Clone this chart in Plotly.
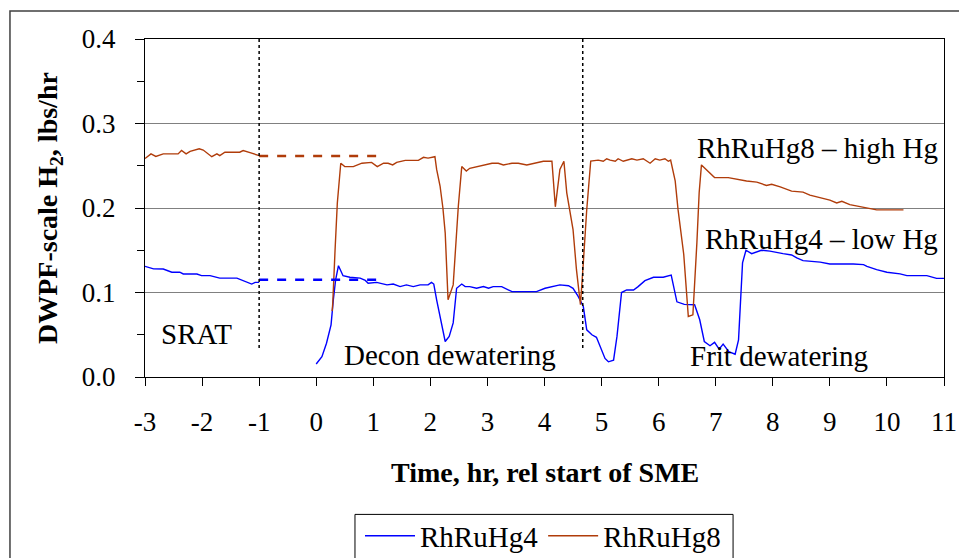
import plotly.graph_objects as go

# ---------------- data ----------------
srat_t_hg4 = [-3.0, -2.85, -2.68, -2.53, -2.39, -2.33, -2.09, -2.01, -1.86, -1.69, -1.39, -1.28, -1.13, -1.07, -1.0]
srat_hg4 = [0.131, 0.128, 0.1278, 0.124, 0.124, 0.1219, 0.1219, 0.120, 0.120, 0.117, 0.117, 0.1143, 0.110, 0.112, 0.112]

srat_t_hg8 = [-3.0, -2.895, -2.81, -2.68, -2.42, -2.36, -2.28, -2.21, -2.05, -1.98, -1.83, -1.74, -1.69, -1.60,
              -1.34, -1.28, -1.16, -1.07, -1.0]
srat_hg8 = [0.2585, 0.264, 0.261, 0.264, 0.264, 0.268, 0.264, 0.267, 0.270, 0.2686, 0.2607, 0.264, 0.262, 0.266,
            0.266, 0.268, 0.2655, 0.264, 0.262]

sme_t_hg4 = [0.00, 0.10, 0.18, 0.26, 0.30, 0.34, 0.39, 0.47, 0.59, 0.77, 0.86, 0.91, 1.06, 1.24, 1.35, 1.47, 1.58,
             1.70, 1.82, 1.96, 2.02, 2.06, 2.11, 2.17, 2.26, 2.33, 2.40, 2.46, 2.55, 2.61, 2.69, 2.81, 2.93, 3.02,
             3.10, 3.25, 3.43, 3.63, 3.86, 4.01, 4.15, 4.27, 4.42, 4.50, 4.59, 4.68, 4.74, 4.83, 4.91, 4.97, 5.06,
             5.12, 5.21, 5.27, 5.35, 5.44, 5.56, 5.64, 5.76, 5.91, 6.08, 6.22, 6.25, 6.32, 6.45, 6.63, 6.72, 6.80,
             6.90, 6.98, 7.06, 7.13, 7.23, 7.34, 7.40, 7.43, 7.47, 7.53, 7.63, 7.80, 7.95, 8.18, 8.33, 8.42, 8.53,
             8.83, 9.00, 9.41, 9.59, 9.65, 9.82, 10.00, 10.23, 10.35, 10.70, 10.87, 11.0]
sme_hg4 = [0.0154, 0.024, 0.040, 0.0617, 0.0914, 0.115, 0.1317, 0.1199, 0.118, 0.117, 0.1143, 0.111, 0.112, 0.109,
           0.110, 0.107, 0.109, 0.107, 0.109, 0.109, 0.112, 0.110, 0.0914, 0.072, 0.042, 0.048, 0.064, 0.105, 0.110,
           0.107, 0.107, 0.105, 0.107, 0.105, 0.107, 0.107, 0.101, 0.101, 0.101, 0.105, 0.107, 0.109, 0.108, 0.105,
           0.0953, 0.0834, 0.0558, 0.050, 0.047, 0.037, 0.022, 0.018, 0.020, 0.048, 0.100, 0.103, 0.103, 0.107,
           0.114, 0.118, 0.118, 0.1205, 0.111, 0.089, 0.086, 0.0855, 0.0677, 0.042, 0.037, 0.041, 0.033, 0.039,
           0.030, 0.027, 0.044, 0.0834, 0.135, 0.150, 0.146, 0.150, 0.149, 0.146, 0.1444, 0.141, 0.1377, 0.136,
           0.1337, 0.1337, 0.133, 0.131, 0.127, 0.124, 0.122, 0.120, 0.120, 0.1167, 0.1167]

sme_t_hg8 = [0.28, 0.29, 0.33, 0.37, 0.43, 0.50, 0.65, 0.80, 0.97, 1.07, 1.18, 1.26, 1.34, 1.41, 1.56, 1.79, 1.88,
             1.96, 2.08, 2.11, 2.17, 2.22, 2.26, 2.31, 2.40, 2.49, 2.55, 2.63, 2.69, 2.81, 2.93, 3.08, 3.19, 3.28,
             3.43, 3.54, 3.69, 3.83, 3.98, 4.13, 4.19, 4.27, 4.34, 4.39, 4.50, 4.56, 4.63, 4.68, 4.74, 4.81, 4.94,
             5.03, 5.09, 5.15, 5.24, 5.29, 5.38, 5.53, 5.62, 5.73, 5.85, 5.94, 6.02, 6.11, 6.17, 6.21, 6.29, 6.34,
             6.40, 6.44, 6.52, 6.60, 6.67, 6.71, 6.75, 6.87, 6.98, 7.22, 7.37, 7.54, 7.72, 7.89, 7.98, 8.13, 8.33,
             8.53, 8.65, 8.83, 9.00, 9.12, 9.21, 9.35, 9.53, 9.67, 9.82, 10.11, 10.29]
sme_hg8 = [0.078, 0.0874, 0.15, 0.206, 0.253, 0.249, 0.249, 0.253, 0.254, 0.249, 0.253, 0.253, 0.251, 0.254, 0.2564,
           0.2564, 0.260, 0.259, 0.2607, 0.2457, 0.226, 0.20, 0.1706, 0.0914, 0.109, 0.202, 0.249, 0.2437, 0.247,
           0.249, 0.251, 0.253, 0.253, 0.251, 0.253, 0.253, 0.251, 0.253, 0.2553, 0.2553, 0.2014, 0.2457, 0.2553,
           0.218, 0.1745, 0.127, 0.0855, 0.135, 0.198, 0.2556, 0.2567, 0.2553, 0.2583, 0.2567, 0.2553, 0.2583,
           0.2553, 0.2583, 0.2567, 0.2583, 0.253, 0.2583, 0.2567, 0.2583, 0.2553, 0.2567, 0.232, 0.198, 0.1666,
           0.145, 0.0716, 0.0736, 0.1587, 0.218, 0.251, 0.2437, 0.236, 0.236, 0.234, 0.232, 0.2306, 0.2267, 0.228,
           0.225, 0.220, 0.2188, 0.2152, 0.212, 0.2093, 0.206, 0.208, 0.204, 0.2013, 0.1998, 0.1978, 0.1978, 0.1978]

dash_t = [-1.0, 1.05]
dash_hg4 = [0.115, 0.115]
dash_hg8 = [0.2615, 0.2615]

phase_lines_t = [-1.0, 4.67]
phase_line_bottom = 0.0344

phase_labels = ["SRAT", "Decon dewatering", "Frit dewatering"]
phase_label_x = [-2.76, 0.452, 6.515]
phase_label_y = [0.051, 0.0261, 0.0243]

series_labels = ["RhRuHg8 – high Hg", "RhRuHg4 – low Hg"]
series_label_y = [0.2706, 0.1638]
series_label_x_right = 10.93

x_tick_vals = [-3, -2, -1, 0, 1, 2, 3, 4, 5, 6, 7, 8, 9, 10, 11]
x_tick_text = ["-3", "-2", "-1", "0", "1", "2", "3", "4", "5", "6", "7", "8", "9", "10", "11"]

series_names = ["RhRuHg4", "RhRuHg8"]
colors = ["#0000FF", "#B03C0A"]

FONT = "Liberation Serif, Times New Roman, serif"

fig = go.Figure()

x4 = srat_t_hg4 + [None] + sme_t_hg4
y4 = srat_hg4 + [None] + sme_hg4
x8 = srat_t_hg8 + [None] + sme_t_hg8
y8 = srat_hg8 + [None] + sme_hg8

fig.add_trace(go.Scatter(x=x4, y=y4, mode="lines", name=series_names[0],
                         line=dict(color=colors[0], width=1.4), connectgaps=False))
fig.add_trace(go.Scatter(x=x8, y=y8, mode="lines", name=series_names[1],
                         line=dict(color=colors[1], width=1.4), connectgaps=False))
fig.add_trace(go.Scatter(x=dash_t, y=dash_hg4, mode="lines", showlegend=False,
                         line=dict(color=colors[0], width=2.5, dash="dash")))
fig.add_trace(go.Scatter(x=dash_t, y=dash_hg8, mode="lines", showlegend=False,
                         line=dict(color=colors[1], width=2.5, dash="dash")))

shapes = []
for xv in phase_lines_t:
    shapes.append(dict(type="line", xref="x", yref="y", x0=xv, x1=xv, y0=phase_line_bottom, y1=0.4,
                       line=dict(color="black", width=1.5, dash="dot")))
# outer chart border
shapes.append(dict(type="rect", xref="paper", yref="paper", x0=-0.169, x1=1.03, y0=-0.7, y1=1.083,
                   line=dict(color="#404040", width=1.5), layer="below"))
# legend box
shapes.append(dict(type="rect", xref="paper", yref="paper", x0=0.2628, x1=0.736, y0=-0.7, y1=-0.4065,
                   line=dict(color="black", width=1)))

annotations = []
for txt, xv, yv in zip(phase_labels, phase_label_x, phase_label_y):
    annotations.append(dict(text=txt, x=xv, y=yv, xref="x", yref="y", xanchor="left", yanchor="middle",
                            showarrow=False, font=dict(family=FONT, size=29, color="black")))
for txt, yv in zip(series_labels, series_label_y):
    annotations.append(dict(text=txt, x=series_label_x_right, y=yv, xref="x", yref="y", xanchor="right",
                            yanchor="middle", showarrow=False, font=dict(family=FONT, size=29, color="black")))
annotations.append(dict(text="<b>DWPF-scale H<sub>2</sub>, lbs/hr</b>", x=(49 - 145) / 799, y=0.5,
                        xref="paper", yref="paper", textangle=-90, xanchor="center", yanchor="middle",
                        showarrow=False, font=dict(family=FONT, size=28, color="black")))
annotations.append(dict(text="<b>Time, hr, rel start of SME</b>", x=0.5, y=(377 - 472) / 337,
                        xref="paper", yref="paper", xanchor="center", yanchor="middle",
                        showarrow=False, font=dict(family=FONT, size=28, color="black")))

fig.update_layout(
    width=959, height=558,
    margin=dict(l=145, r=15, t=39, b=181, autoexpand=False),
    paper_bgcolor="white", plot_bgcolor="white",
    font=dict(family=FONT, size=27, color="black"),
    shapes=shapes, annotations=annotations,
    showlegend=True,
    legend=dict(orientation="h", x=(360 - 145) / 799, y=(377 - 510) / 337, xanchor="left", yanchor="top",
                font=dict(family=FONT, size=29, color="black"), bgcolor="rgba(0,0,0,0)", borderwidth=0,
                itemwidth=50),
)
fig.update_xaxes(range=[-3, 11], tickvals=x_tick_vals, ticktext=x_tick_text, showgrid=False, zeroline=False,
                 showline=True, linecolor="black", linewidth=1, mirror=True, automargin=False,
                 ticks="outside", ticklen=8, tickcolor="black", ticklabelstandoff=13,
                 tickfont=dict(family=FONT, size=27))
fig.update_yaxes(range=[0, 0.4], dtick=0.1, tickformat=".1f", showgrid=True, gridcolor="#808080", gridwidth=1,
                 zeroline=False, showline=True, linecolor="black", linewidth=1, mirror=True, automargin=False,
                 ticks="outside", ticklen=9, tickcolor="black", ticklabelstandoff=14,
                 tickfont=dict(family=FONT, size=27),
                 minor=dict(dtick=0.05, ticks="outside", ticklen=7, tickcolor="black", showgrid=False))

fig.write_html("out.html", config={"displayModeBar": False})
